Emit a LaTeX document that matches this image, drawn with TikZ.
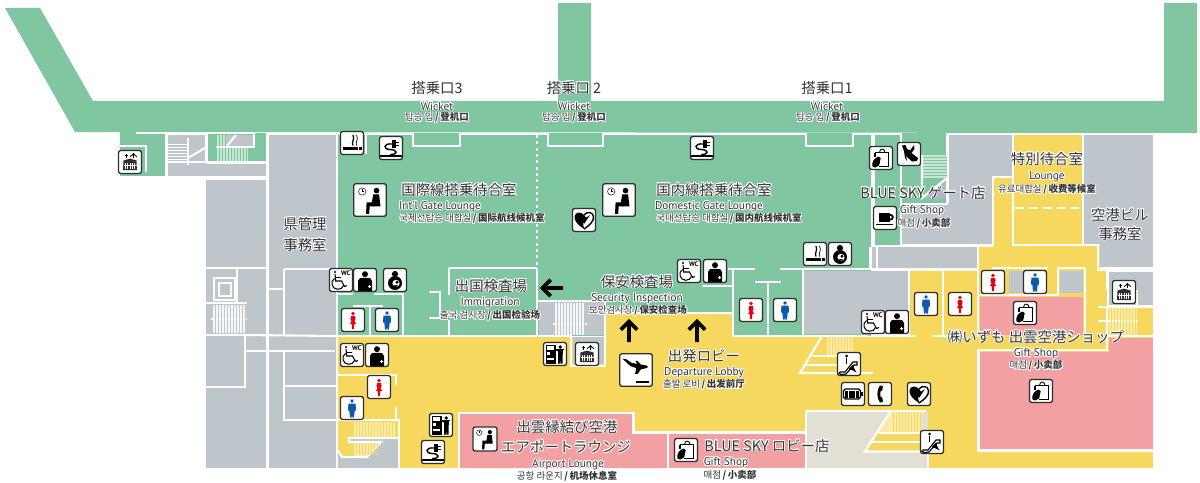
\documentclass[tikz,border=0pt]{standalone}
\usepackage{fontspec}
\usepackage[copies]{contour}
\setmainfont{PT Sans}
\newfontfamily\jpfont{Noto Sans CJK JP}
\newfontfamily\krfont{Noto Sans CJK KR}
\newfontfamily\cnfont{Noto Sans CJK SC}
\contourlength{0.45pt}
\contournumber{16}
\definecolor{greenroom}{HTML}{80C6A0}
\definecolor{greenstair}{HTML}{C6E6D4}
\definecolor{grayroom}{HTML}{BEC5CB}
\definecolor{yellowroom}{HTML}{F6D85E}
\definecolor{yellowstair}{HTML}{FAEBA8}
\definecolor{pinkroom}{HTML}{F2A0A2}
\definecolor{beigeroom}{HTML}{E2E0D4}
\definecolor{lilacroom}{HTML}{B4B6C8}
\definecolor{labelgray}{HTML}{333333}
\definecolor{iconline}{HTML}{2E2E2E}
\definecolor{womanred}{HTML}{E60012}
\definecolor{manblue}{HTML}{0F5AA8}
\newcommand{\hl}[1]{\contour{white}{#1}}
\newcommand{\krcn}[2]{\contour{white}{\krfont #1\cnfont\bfseries\,/\,#2}}
\newcommand{\iconbox}{\filldraw [iconbox] (-11.5,-11.5) rectangle (11.5,11.5);}
\tikzset{
  iconbox/.style={fill=white,draw=iconline,line width=0.75pt,rounded corners=1.3pt},
  wall/.style={draw=white,line width=1.2pt},
  finewall/.style={draw=white,line width=0.35pt},
  title/.style={inner sep=0,text=labelgray,font=\jpfont\fontsize{8.2}{9}\selectfont},
  eng/.style={inner sep=0,text=labelgray,font=\fontsize{6.4}{8}\selectfont},
  tiny/.style={inner sep=0,text=labelgray,font=\fontsize{5.4}{6}\selectfont},
  womanicon/.pic={\iconbox
    \fill [womanred] (0,-6.5) circle (1.9);
    \fill [womanred] (-1.7,-4.2) -- (1.7,-4.2) -- (2.6,-1) -- (1.5,1) -- (3,4) -- (1.2,4) -- (1.1,9) -- (0.2,9) -- (0,4) -- (-0.2,9) -- (-1.1,9) -- (-1.2,4) -- (-3,4) -- (-1.5,1) -- (-2.6,-1) -- cycle;},
  manicon/.pic={\iconbox
    \fill [manblue] (0,-7) circle (1.9);
    \fill [manblue] (-3.6,-4.4) -- (3.6,-4.4) -- (4,2.5) -- (2.7,2.5) -- (2,9.5) -- (0.3,9.5) -- (0,2.5) -- (-0.3,9.5) -- (-2,9.5) -- (-2.7,2.5) -- (-4,2.5) -- cycle;},
  wcicon/.pic={\iconbox
    \node (wcmark) at (4.8,-6.8) [inner sep=0,font=\bfseries\fontsize{3.8}{4}\selectfont] {WC};
    \fill (-6,-8) circle (1.2);
    \draw [line width=0.6pt] (-6,-6) -- (-5.3,1) -- (0.5,1) -- (3.5,6.5) -- (6,5.5);
    \draw [line width=0.6pt] (-5.5,-2.5) -- (-0.5,-2.5);
    \draw [line width=0.6pt] (-6.5,-1.5) .. controls (-11,1) and (-9.5,9) .. (-3.5,9.3) .. controls (-0.5,9.4) and (1.5,8) .. (2.5,5.5);},
  medicicon/.pic={\iconbox
    \fill (0,-5.8) circle (3);
    \fill (-7,11) -- (-7,1) .. controls (-7,-2) and (-4,-2.2) .. (-2,-2.2) -- (2,-2.2) .. controls (4,-2.2) and (7,-2) .. (7,1) -- (7,11) -- cycle;
    \fill [white] (4,5.2) rectangle (5,8.2) (3,6.2) rectangle (6,7.2);},
  nursingicon/.pic={\iconbox
    \fill (0,-6) circle (3.1);
    \fill (0,3) circle (7);
    \fill [white] (1,3.4) circle (3.6);
    \fill (2,2.2) circle (1.6);
    \fill (-2,5.5) -- (2.5,5) -- (2.5,6.4) -- (-1,7) -- cycle;},
  smokingicon/.pic={\iconbox
    \fill (-9,4) rectangle (6,7);
    \fill (7,4) rectangle (9.5,7);
    \draw [line width=0.7pt] (1,2.5) .. controls (-1,-1) and (3,-3) .. (1,-8);
    \draw [line width=0.4pt] (4.5,2.5) .. controls (3,-1) and (7,-3) .. (4.5,-8);},
  outleticon/.pic={\iconbox
    \draw [line width=1.1pt] (-11,8.3) -- (11,8.3);
    \fill (1,-8) rectangle (4.5,-0.5);
    \fill (4.5,-6.5) rectangle (8,-5);
    \fill (4.5,-3.5) rectangle (8,-2);
    \draw [line width=0.8pt] (1,-4) .. controls (-8,-5) and (-8,1.5) .. (-1,1.5) .. controls (7,1.5) and (7,7) .. (-1,6.5);},
  seaticon/.pic={\iconbox
    \draw [line width=0.25pt] (-5.5,-6) circle (2.6);
    \draw [line width=0.25pt] (-5.5,-7.6) -- (-5.5,-6) -- (-4.4,-6);
    \fill (4.6,-6.6) circle (2);
    \fill (2.3,-3.9) -- (6.4,-3.9) -- (7.4,4.5) -- (2.2,4.5) -- (1.2,2) -- cycle;
    \fill (-2.4,1.6) -- (3,1.6) -- (3,4.5) -- (-0.2,4.5) -- (-0.6,9.8) -- (-2.8,9.8) -- cycle;},
  aedicon/.pic={\iconbox
    \fill (0,9) .. controls (-6,5) and (-10,1) .. (-9.5,-3.5) .. controls (-9,-8) and (-3,-9) .. (0,-5) -- (3,-1) -- (-1,3) -- cycle;
    \draw [line width=0.8pt] (0,9) .. controls (6,5) and (10,1) .. (9.5,-3.5) .. controls (9,-8) and (3,-9) .. (0,-5);
    \fill (-5,1) -- (3,-3) -- (6,-5) -- (2,1) -- (0,4) -- (-1,1.5) -- cycle;},
  lifticon/.pic={\iconbox
    \fill [iconline] (-6.5,-1.5) -- (0,-3.4) -- (6.5,-1.5) -- (7,8) -- (-7,8) -- cycle;
    \foreach \gx in {-4.8,-2.4,0,2.4,4.8} {\draw [white,line width=0.4pt] (\gx,1) -- (\gx,7.2);}
    \draw [white,line width=0.4pt] (-6.5,3.5) -- (6.5,3.5);
    \draw [line width=0.5pt] (-3.5,-4.5) -- (-3.5,-8.5) (-5,-6.5) -- (-2,-6.5);
    \draw [line width=0.6pt,->] (3.5,-4) -- (3.5,-9);},
  vendingicon/.pic={\iconbox
    \fill (-9.5,-9.5) rectangle (0.5,9.5);
    \fill [white] (-8,-7.8) rectangle (-1,-3.6);
    \fill [white] (-8,-1.8) rectangle (-5,1);
    \fill [white] (-8,4) rectangle (-1,6.2);
    \fill (5.3,-7) circle (1.9);
    \fill (0.8,-5) -- (9.5,-5) -- (8,-3.6) -- (7.6,2) -- (7.6,9.5) -- (5.6,9.5) -- (5.3,3) -- (5,9.5) -- (3,9.5) -- (3,-2.5) -- (0.8,-3.6) -- cycle;},
  gifticon/.pic={\iconbox
    \draw [line width=0.6pt] (-6,-5.5) -- (7.5,-5.5) -- (7.5,8.5) -- (-2,8.5);
    \draw [line width=0.6pt] (-6,-5.5) -- (-6,-1);
    \draw [line width=0.5pt] (-1.5,-5.5) .. controls (-1.5,-10) and (4,-10) .. (4,-5.5);
    \fill (-8.5,8.5) .. controls (-9.5,4) and (-7,0) .. (-2.5,-1.5) .. controls (0,-1) and (0.5,1) .. (-1,3) .. controls (-1,7) and (-3,9.5) .. (-6,9.5) -- cycle;},
  coffeeicon/.pic={\iconbox
    \fill (-6.5,-5) rectangle (4.5,3.5);
    \draw [line width=1pt] (4.5,-3.2) .. controls (9,-3.8) and (9,2) .. (4.2,1.8);
    \fill (-9,5.8) rectangle (8,7.3);},
  escaicon/.pic={\iconbox
    \draw [line width=0.65pt] (-9,8) -- (-4,8) -- (4,-2) -- (8,-2) -- (8,1) -- (5,1) -- (-3,10) -- (-8,10.5) .. controls (-10.5,10) and (-10.5,8) .. (-9,8);
    \fill (-2.5,-8) circle (1.5);
    \draw [line width=1pt] (-2.5,-6) -- (-2.5,0);
    \draw [line width=0.6pt,-latex] (3,4) -- (7.5,8.5);},
  batteryicon/.pic={\iconbox
    \draw [line width=0.7pt,rounded corners=1pt] (-9.5,-5) rectangle (7.5,5);
    \fill (7.5,-2) rectangle (10,2);
    \foreach \gx in {-8,-4.3,-0.6,3.1} {\fill (\gx,-3.5) rectangle (\gx+2.8,3.5);}},
  phoneicon/.pic={\iconbox
    \fill (0,-8.5) -- (3,-8) -- (2.2,-3.5) -- (0.7,-3) .. controls (0,-1) and (0,1) .. (0.7,3) -- (2.2,3.5) -- (3,8) -- (0,8.5) .. controls (-3.5,5) and (-3.5,-5) .. (0,-8.5);},
  boardingicon/.pic={\iconbox
    \fill (-9.5,-8) -- (-7,-7.6) -- (-3,-5) -- (5,-3.6) .. controls (9,-3.4) and (9.5,-1.6) .. (6,-1) -- (3.6,-0.6) -- (1,2.8) -- (-0.6,2.8) -- (0.2,-1.4) -- (-4,-2.8) -- cycle;
    \fill (-0.5,-6.5) -- (0.8,-6.5) -- (3.5,-3.8) -- (1.2,-3.8) -- cycle;
    \fill (0,7.6) rectangle (9.5,9);},
  bootsicon/.pic={\iconbox
    \fill (-7,-8.5) -- (-3.5,-9) -- (-2,-5) -- (1,-3.5) -- (5,-9) -- (5.5,-5) -- (2.5,-1) -- (9,4) -- (8,7) -- (3,7.5) -- (-3,2) -- (-2,7) -- (-4,4) -- (-5,-3) -- cycle;},
  arrowmark/.pic={
    \draw [line width=2.1pt] (0,11) -- (0,-9) (-8.2,-1.3) -- (0,-9.5) -- (8.2,-1.3);}
}
\begin{document}
\begin{tikzpicture}[x=0.02cm,y=-0.02cm]
\useasboundingbox (0,0) rectangle (1200,483);

\fill [greenroom] (5,8) -- (40,8) -- (93,101) -- (558,101) -- (558,3) -- (591,3) -- (591,101) -- (1164,101) -- (1164,3) -- (1197,3) -- (1197,133) -- (75,132) -- cycle;
\fill [greenroom] (120,132) rectangle (165.5,176);
\fill [greenroom] (207.5,133) rectangle (265.5,161);
\fill [greenroom] (338,133) rectangle (871,336);
\fill [greenroom] (875,133) rectangle (900,245);
\fill [greenroom] (901,133) rectangle (946.5,203);
\fill [grayroom] (168,135) rectangle (205.5,176);
\fill [grayroom] (205,163.5) rectangle (265.5,176);
\fill [grayroom] (218,135) rectangle (253,146);
\fill [grayroom] (206,180) rectangle (266,468);
\fill [grayroom] (269,135) rectangle (336,468);
\fill [grayroom] (266,340) rectangle (269,468);
\fill [yellowroom] (338,337) rectangle (1153,468);
\fill [yellowroom] (605,312) rectangle (733,337);
\fill [yellowroom] (538,336) rectangle (571,340);
\fill [grayroom] (539,302) rectangle (605,335);
\fill [grayroom] (573,337) rectangle (605,364);
\fill [grayroom] (804,271) rectangle (909,334);
\fill [yellowroom] (910,271) rectangle (942,337);
\fill [yellowroom] (944,271) rectangle (977,337);
\fill [grayroom] (872,247) rectangle (977,267.5);
\fill [grayroom] (902,203) rectangle (992,244);
\fill [grayroom] (949,135) rectangle (1012,177);
\fill [grayroom] (949,177) rectangle (992,203);
\fill [yellowroom] (1014,135) rectangle (1082,244);
\fill [yellowroom] (994,178) rectangle (1012,247);
\fill [yellowroom] (979,246) rectangle (1107,350);
\fill [yellowroom] (1098,270) rectangle (1107,336);
\fill [yellowroom] (1107,307) rectangle (1153,336);
\fill [grayroom] (1084,135) rectangle (1153,245);
\fill [grayroom] (1100,245) rectangle (1153,267);
\fill [grayroom] (1109,272) rectangle (1153,305);
\fill [grayroom] (1060,271) rectangle (1083,293);
\fill [grayroom] (1009,271) rectangle (1025,293);
\fill [pinkroom] (980,297) rectangle (1083,335);
\fill [pinkroom] (980,352) rectangle (1153,449);
\fill [pinkroom] (1109,338) rectangle (1153,352);
\fill [white] (978,350) rectangle (980,451);
\fill [white] (978,449) rectangle (1153,451);
\fill [pinkroom] (460,414) -- (633,414) -- (633,433) -- (667,433) -- (667,468) -- (460,468) -- cycle;
\fill [pinkroom] (669,434) rectangle (805,468);
\fill [beigeroom] (807,412) rectangle (928,468);
\fill [grayroom] (399,438) -- (349,438) -- (349,442) -- (381,442) -- (367,457) -- (342,457) -- (338,450) -- (338,468) -- (399,468) -- cycle;

\draw [wall] (120,146) -- (146,146) -- (146,172);
\draw [wall] (136,133) -- (254,133) -- (254,147) -- (216,147);
\draw [wall] (166,133) -- (166,176);
\draw [wall] (206,135) -- (206,162);
\draw [wall] (168,162) -- (266,162);
\draw [wall] (188,138) -- (188,165);
\draw [wall] (188,158) -- (205,148);
\draw [wall] (226,147) -- (236,135);
\draw [wall] (206,178) -- (266,178);
\draw [wall] (267.5,134) -- (267.5,468);
\draw [wall] (267,134) -- (337,134) -- (337,468);
\draw [wall] (366,134) -- (366,154);
\draw [wall] (337,134) -- (413,134) -- (413,146) -- (460,146) -- (460,134) -- (548,134) -- (548,146) -- (603,146) -- (603,134) -- (806,134) -- (806,146) -- (853,146) -- (853,134) -- (872,134);
\draw [wall] (872,134) -- (872,246);
\draw [wall] (874,134) -- (901,134) -- (901,204);
\draw [wall] (947,133) -- (947,204) -- (901,204);
\draw [wall] (877,246) -- (877,268);
\draw [wall] (947,134) -- (1197,134);
\draw [wall] (1013,135) -- (1013,246);
\draw [wall] (1013,177) -- (993,177) -- (993,245) -- (902,245);
\draw [wall] (1013,245) -- (1083,245);
\draw [wall] (1083,134) -- (1083,246);
\draw [wall] (1083,245) -- (1098,245) -- (1098,270) -- (1107,270) -- (1107,290);
\draw [wall] (1107,307) -- (1107,350) -- (978,350) -- (978,451) -- (1153,451);
\draw [wall] (1108,271) -- (1153,271);
\draw [wall] (1100,268) -- (1153,268);
\draw [wall] (1107,336) -- (1153,336);
\draw [wall] (1098,307) -- (1153,307);
\draw [wall] (1098,321) -- (1138,321);
\draw [wall] (1137,290) -- (1137,307);
\draw [wall] (1085,268) -- (1058,268) -- (1058,295) -- (978,295);
\draw [wall] (1085,268) -- (1085,336);
\draw [wall] (992,268) -- (1048,268);
\draw [wall] (1026,270) -- (1026,295);
\draw [wall] (870,247) -- (870,269) -- (978,269);
\draw [wall] (978,246) -- (978,336);
\draw [wall] (978,245.5) -- (993,245.5);
\draw [wall] (909,270) -- (909,335);
\draw [wall] (943,270) -- (943,335);
\draw [wall] (733,336) -- (868,336);
\draw [wall] (900,336) -- (916,336);
\draw [wall] (933,336) -- (950,336);
\draw [wall] (803,269) -- (803,336);
\draw [wall] (780,269) -- (870,269);
\draw [wall] (728,269) -- (755,269);
\draw [wall] (733,268) -- (733,337);
\draw [wall] (702,286) -- (733,286);
\draw [wall] (768,283) -- (768,336);
\draw [wall] (755,282) -- (781,282);
\draw [wall] (605,313) -- (733,313);
\draw [wall] (537,301) -- (605,301) -- (605,366) -- (571,366) -- (571,336) -- (538,336);
\draw [wall] (553,324) -- (587,324);
\draw [wall] (537,268) -- (537,336);
\draw [wall] (449,268) -- (537,268);
\draw [wall] (449,268) -- (449,295);
\draw [wall] (449,320) -- (449,336);
\draw [wall] (429,292) -- (440,292) -- (440,318) -- (429,318);
\draw [wall] (337,336) -- (538,336);
\draw [wall] (338,294) -- (353,294);
\draw [wall] (374,294) -- (403,294) -- (403,336);
\draw [wall] (353,306) -- (383,306);
\draw [wall] (370,307) -- (370,336);
\draw [wall] (206,268) -- (268,268);
\draw [wall] (268,289) -- (284,289);
\draw [wall] (284,269) -- (284,336);
\draw [wall] (284,269) -- (332,269);
\draw [wall] (206,335) -- (245,335) -- (245,387) -- (206,387);
\draw [wall] (245,351) -- (335,351);
\draw [wall] (245,335) -- (336,336);
\draw [wall] (284,352) -- (284,420) -- (400,420);
\draw [wall] (284,386) -- (336,386);
\draw [wall] (237,269) -- (237,303);
\draw [wall] (206,303) -- (247,303);
\draw [wall] (211,319) -- (247,319);
\draw [wall] (214,278) rectangle (235,300);
\draw [wall] (219,283) rectangle (231,296);
\draw [wall] (338,375) -- (396,375) -- (396,385);
\draw [wall] (396,407) -- (396,420);
\draw [wall] (399,420) -- (399,468);
\draw [wall] (349,438) -- (399,438);
\draw [wall] (349,437) -- (349,442) -- (381,442) -- (367,457) -- (342,457) -- (337,449);
\draw [wall] (459,468) -- (459,413) -- (633.5,413) -- (633.5,432.5) -- (806,432.5);
\draw [wall] (668,432) -- (668,468);
\draw [wall] (806,411) -- (806,468);
\draw [wall] (806,411) -- (926,411);
\draw [wall] (928,445) -- (928,468);
\draw [dash pattern=on 5pt off 3pt,white,line width=1pt] (1015,208) -- (1079,208);
\draw [dash pattern=on 1.8pt off 1.8pt,white,line width=1.2pt] (537,135) -- (537,266);

\foreach \gy in {144,147,...,162} {\draw [finewall] (168,\gy) -- (187,\gy);}
\fill [greenstair] (217,148) rectangle (248,161);
\fill [greenstair] (217,135) rectangle (226,146);
\foreach \gx in {219,222,...,248} {\draw [draw=greenroom,line width=0.3pt] (\gx,148) -- (\gx,161);}
\foreach \gx in {219,222,225} {\draw [draw=greenroom,line width=0.3pt] (\gx,135) -- (\gx,146);}
\fill [greenstair] (923,155) rectangle (947,178);
\foreach \gy in {157,160,...,178} {\draw [draw=greenroom,line width=0.3pt] (923,\gy) -- (947,\gy);}
\draw [wall] (922,155) -- (922,198) -- (947,178);
\fill [lilacroom] (925,198) -- (946,181) -- (946,199) -- cycle;
\fill [white!85!grayroom] (555,303) rectangle (585,323);
\fill [white!85!grayroom] (555,325) rectangle (585,335);
\foreach \gx in {557,560,...,585} {\draw [draw=grayroom,line width=0.3pt] (\gx,303) -- (\gx,335);}
\fill [white!85!grayroom] (213,305) rectangle (245,318);
\fill [white!85!grayroom] (213,320) rectangle (245,333);
\foreach \gx in {215,218,...,245} {\draw [draw=grayroom,line width=0.3pt] (\gx,305) -- (\gx,333);}
\fill [yellowstair] (1109,308) rectangle (1137,320);
\fill [yellowstair] (1109,322) rectangle (1137,335);
\foreach \gx in {1111,1114,...,1137} {\draw [draw=yellowroom,line width=0.3pt] (\gx,308) -- (\gx,335);}
\fill [yellowstair] (354,422) rectangle (395,437);
\fill [yellowstair] (354,443) -- (379,443) -- (368,456) -- (354,456) -- cycle;
\foreach \gx in {356,359,...,395} {\draw [draw=yellowroom,line width=0.3pt] (\gx,422) -- (\gx,437);}
\foreach \gx in {356,359,...,377} {\draw [draw=yellowroom,line width=0.3pt] (\gx,443) -- (\gx,455);}
\fill [yellowstair] (827,337) rectangle (853,355);
\foreach \gx in {829,832,...,853} {\draw [draw=yellowroom,line width=0.3pt] (\gx,337) -- (\gx,355);}
\draw [wall] (822,336) -- (800,373) -- (873,373);
\draw [wall] (812,356) -- (840,356);
\draw [wall] (806,365) -- (840,365);
\fill [yellowroom] (890,412) -- (922,412) -- (922,451) -- (865,451) -- cycle;
\fill [yellowstair] (890,412) -- (922,412) -- (922,433) -- (878,433) -- cycle;
\foreach \gx in {893,896,...,922} {\draw [draw=yellowroom,line width=0.3pt] (\gx,412) -- (\gx,433);}
\draw [wall] (890,412) -- (865,451.5) -- (922,451.5);
\draw [wall] (878,433) -- (922,433);
\draw [wall] (871,442) -- (922,442);

\pic at (130,162) {lifticon};
\pic at (352,143) {smokingicon};
\pic at (391,148) {outleticon};
\pic at (702,148) {outleticon};
\pic [scale=1.42] at (370,200) {seaticon};
\pic [scale=1.42] at (619,200) {seaticon};
\pic at (584,220) {aedicon};
\pic at (341,280) {wcicon};
\pic at (365,280) {medicicon};
\pic at (395,280) {nursingicon};
\pic at (353,320) {womanicon};
\pic at (387,320) {manicon};
\pic at (352,355) {wcicon};
\pic at (377,355) {medicicon};
\pic at (379,387) {womanicon};
\pic at (352,408) {manicon};
\pic at (555,354) {vendingicon};
\pic at (587,354) {lifticon};
\pic at (441,425) {vendingicon};
\pic at (433,452) {outleticon};
\pic [scale=1.05] at (485,439) {seaticon};
\pic [scale=1.42] at (636,370) {boardingicon};
\pic at (689,271) {wcicon};
\pic at (715,271) {medicicon};
\pic at (751,310) {womanicon};
\pic at (785,310) {manicon};
\pic at (815,254) {smokingicon};
\pic at (840,254) {nursingicon};
\pic at (881,158) {gifticon};
\pic at (909,154) {bootsicon};
\pic at (885,218) {coffeeicon};
\pic at (849,364) {escaicon};
\pic at (853,394) {batteryicon};
\pic at (880,394) {phoneicon};
\pic at (919,394) {aedicon};
\pic at (932,442) {escaicon};
\pic at (873,322) {wcicon};
\pic at (897,322) {medicicon};
\pic at (926,304) {manicon};
\pic at (960,304) {womanicon};
\pic at (993,282) {womanicon};
\pic at (1035,282) {manicon};
\pic at (1025,313) {gifticon};
\pic at (1041,391) {gifticon};
\pic at (1124,292) {lifticon};
\pic at (686,450) {gifticon};
\pic [rotate=90] at (552,288) {arrowmark};
\pic at (629,331) {arrowmark};
\pic at (697,331) {arrowmark};

\node [title] (gate3) at (437,88) {\hl{搭乗口3}};
\node [eng] (gate3eng) at (437,106.5) {\hl{Wicket}};
\node [tiny] (gate3sub) at (437,118) {\krcn{탑승 입}{登机口}};
\node [title] (gate2) at (574,88) {\hl{搭乗口 2}};
\node [eng] (gate2eng) at (574,106.5) {\hl{Wicket}};
\node [tiny] (gate2sub) at (574,118) {\krcn{탑승 입}{登机口}};
\node [title] (gate1) at (827,88) {\hl{搭乗口1}};
\node [eng] (gate1eng) at (827,106.5) {\hl{Wicket}};
\node [tiny] (gate1sub) at (828,118) {\krcn{탑승 입}{登机口}};
\node [title] (intlroom) at (459,190) {\hl{国際線搭乗待合室}};
\node [eng] (intlroomeng) at (440,207) {\hl{Int'l Gate Lounge}};
\node [tiny] (intlroomsub) at (472,219) {\krcn{국제선탑승 대합실}{国际航线候机室}};
\node [title] (domroom) at (714,190) {\hl{国内線搭乗待合室}};
\node [eng] (domroomeng) at (709,207) {\hl{Domestic Gate Lounge}};
\node [tiny] (domroomsub) at (729,219) {\krcn{국내선탑승 대합실}{国内航线候机室}};
\node [title] (prefa) at (305,224) {\hl{県管理}};
\node [title] (prefb) at (305,245) {\hl{事務室}};
\node [title] (immig) at (491,286) {\hl{出国検査場}};
\node [eng] (immigeng) at (490,303) {\hl{Immigration}};
\node [tiny] (immigsub) at (490,316) {\krcn{출국 검사장}{出国检验场}};
\node [title] (secur) at (637,282) {\hl{保安検査場}};
\node [eng] (secureng) at (637,299) {\hl{Security Inspection}};
\node [tiny] (secursub) at (638,311) {\krcn{보안검사장}{保安检查场}};
\node [title] (lobby) at (704,356) {\hl{出発ロビー}};
\node [eng] (lobbyeng) at (704,373) {\hl{Departure Lobby}};
\node [tiny] (lobbysub) at (704,385) {\krcn{출발 로비}{出发前厅}};
\node [title] (loungea) at (567,427) {\hl{出雲縁結び空港}};
\node [title] (loungeb) at (566,447) {\hl{エアポートラウンジ}};
\node [eng] (loungeeng) at (568,465) {\hl{Airport Lounge}};
\node [tiny] (loungesub) at (567,477) {\krcn{공항 라운지}{机场休息室}};
\node [title] (skylobby) at (767,446) {\hl{BLUE SKY ロビー店}};
\node [eng] (skylobbyeng) at (726,463) {\hl{Gift Shop}};
\node [tiny] (skylobbysub) at (730,476) {\krcn{매점}{小卖部}};
\node [title] (skygate) at (923,193) {\hl{BLUE SKY ゲート店}};
\node [eng] (skygateeng) at (922,211) {\hl{Gift Shop}};
\node [tiny] (skygatesub) at (924,224) {\krcn{매점}{小卖部}};
\node [title] (special) at (1047,159) {\hl{特別待合室}};
\node [eng] (specialeng) at (1047,177) {\hl{Lounge}};
\node [tiny] (specialsub) at (1047,190) {\krcn{유료대합실}{收费等候室}};
\node [title] (officea) at (1120,215) {\hl{空港ビル}};
\node [title] (officeb) at (1120,234) {\hl{事務室}};
\node [title] (izumo) at (1036,337) {\hl{㈱いずも 出雲空港ショップ}};
\node [eng] (izumoeng) at (1036,354) {\hl{Gift Shop}};
\node [tiny] (izumosub) at (1036,366) {\krcn{매점}{小卖部}};
\end{tikzpicture}
\end{document}
